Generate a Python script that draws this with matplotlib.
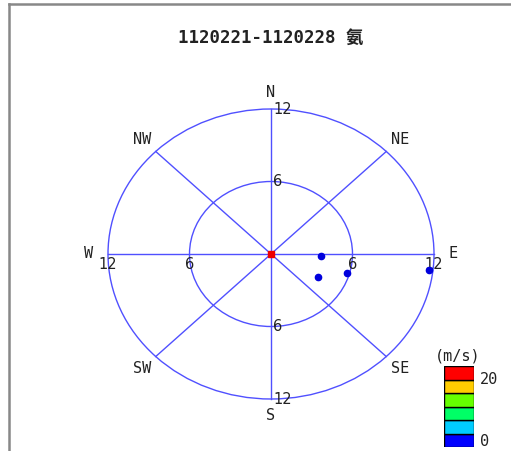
import numpy as np
import matplotlib
matplotlib.use('Agg')
import matplotlib.pyplot as plt
from matplotlib.patches import Circle
from matplotlib.lines import Line2D

plt.rcParams['font.family'] = ['DejaVu Sans Mono', 'Noto Sans CJK TC']

title = '1120221-1120228 氨'

# wind direction (deg from north, clockwise) and concentration for each sample
wind_dir = [92.2, 118.4, 105.9, 96.6]
conc = [3.68, 3.96, 5.82, 11.71]
calm_conc = [0.0]          # calm record plotted at the origin

rings = [6, 12]
compass = ['N', 'NE', 'E', 'SE', 'S', 'SW', 'W', 'NW']

speed_colors = ['#0000ff', '#00ccff', '#00ff66', '#66ff00', '#ffcc00', '#ff0000']
speed_ticks = ['0', '20']

W, H = 511, 451
cx, cy = 271, 254          # centre in pixels
rx, ry = 163, 145          # pixels for r = 12

fig = plt.figure(figsize=(W / 100, H / 100), dpi=100)
ax = fig.add_axes([0, 0, 1, 1])
ax.set_xlim(-cx / rx * 12, (W - cx) / rx * 12)
ax.set_ylim(-(H - cy) / ry * 12, cy / ry * 12)
ax.set_aspect('auto')
ax.axis('off')

grid_c = '#5050ff'
for r in rings:
    ax.add_patch(Circle((0, 0), r, fill=False, ec=grid_c, lw=1))
for a in [0, 45, 90, 135]:
    t = np.deg2rad(a)
    ax.plot([-12 * np.sin(t), 12 * np.sin(t)], [-12 * np.cos(t), 12 * np.cos(t)],
            color=grid_c, lw=1)

# ring labels
for r in rings:
    ax.text(0.15, r, str(r), ha='left', va='center', fontsize=10.5,
            family='DejaVu Sans', color='#222222')
    ax.text(0.15, -r, str(r), ha='left', va='center', fontsize=10.5,
            family='DejaVu Sans', color='#222222')
    ax.text(r, -0.85, str(r), ha='center', va='center', fontsize=10.5,
            family='DejaVu Sans', color='#222222')
    ax.text(-r, -0.85, str(r), ha='center', va='center', fontsize=10.5,
            family='DejaVu Sans', color='#222222')

for i, name in enumerate(compass):
    t = np.deg2rad(i * 45)
    ax.text(13.4 * np.sin(t), 13.4 * np.cos(t), name, ha='center', va='center',
            fontsize=11, color='#222222')

th = np.deg2rad(wind_dir)
xs = np.array(conc) * np.sin(th)
ys = np.array(conc) * np.cos(th)
ax.plot(xs, ys, 'o', color='#0000dd', ms=4.5, zorder=5)
ax.plot(calm_conc, calm_conc, 's', color='#ee0000', ms=5, zorder=6)

ax.text(0, 17.9, title, ha='center', va='center', fontsize=12.5, fontweight='bold',
        color='#222222')

# outer frame
fig.add_artist(Line2D([9 / W, 9 / W], [0, 1 - 4 / H], transform=fig.transFigure,
                      color='#888888', lw=1.8))
fig.add_artist(Line2D([9 / W, 1], [1 - 4 / H, 1 - 4 / H], transform=fig.transFigure,
                      color='#888888', lw=1.8))

# speed legend
cax = fig.add_axes([444 / W, 1 - 447 / H, 30 / W, 81 / H])
cax.bar([0] * len(speed_colors), [1] * len(speed_colors),
        bottom=np.arange(len(speed_colors)), color=speed_colors,
        edgecolor='black', lw=1, width=1)
cax.set_xlim(-0.5, 0.5)
cax.set_ylim(0, len(speed_colors))
cax.axis('off')
fig.text(458 / W, 1 - 356 / H, '(m/s)', ha='center', va='center', fontsize=11,
         color='#222222')
fig.text(480 / W, 1 - 380 / H, speed_ticks[1], ha='left', va='center', fontsize=11,
         color='#222222')
fig.text(480 / W, 1 - 441 / H, speed_ticks[0], ha='left', va='center', fontsize=11,
         color='#222222')

fig.savefig('out.png', dpi=100)
